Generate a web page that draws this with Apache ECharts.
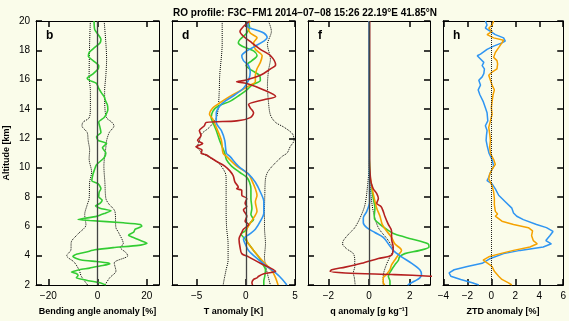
<!DOCTYPE html>
<html>
<head>
<meta charset="utf-8">
<script src="https://cdn.jsdelivr.net/npm/echarts@6/dist/echarts.min.js"></script>
<style>
  html, body { margin: 0; padding: 0; background: #fafcea; }
  #chart { width: 569px; height: 321px; }
</style>
</head>
<body>
<div id="chart"></div>
<script>
// values are [anomaly, altitude km]

// panel b: bending angle anomaly [%]
const bendGreen = [[-1.4,20],[-1.1,19.4],[1.4,18.75],[1.0,18.5],[-1.1,18.2],[-3.4,17.85],[-3.7,17.6],[-1.8,17.3],[0.5,16.95],[0.3,16.75],[-1.8,16.4],[-4.2,16.1],[-3.2,15.95],[-0.4,15.75],[0.5,15.4],[1.6,15.1],[2.7,14.85],[3.4,14.5],[4.0,14.3],[4.2,13.95],[3.4,13.6],[2.6,13.4],[0.5,13.1],[1.0,12.75],[1.4,12.4],[-0.4,12.1],[0.3,11.85],[3.7,11.65],[2.0,11.35],[3.4,11.0],[2.6,10.66],[-0.4,10.2],[-1.4,9.78],[-2.0,9.45],[-2.3,9.1],[0.3,8.9],[1.4,8.56],[0.7,8.34],[0.5,8.0],[1.9,7.8],[1.0,7.57],[-0.8,7.4],[1.0,7.24],[5.5,7.06],[3.2,6.9],[-0.4,6.68],[-7.9,6.46],[-3.2,6.4],[10.5,6.24],[17.4,6.13],[18.0,6.0],[15.3,5.8],[14.7,5.6],[12.6,5.4],[13.6,5.3],[18.0,5.0],[20.1,4.85],[16.7,4.7],[6.4,4.55],[-1.1,4.4],[-4.5,4.25],[-8.6,4.1],[-10.0,3.95],[-6.6,3.7],[-0.4,3.6],[4.5,3.5],[5.0,3.44],[1.0,3.3],[-3.2,3.15],[-7.3,3.04],[-10.6,2.88],[-8.6,2.78],[-7.9,2.64],[-8.6,2.5],[-4.5,2.33],[1.0,2.15],[3.4,2.0]]
const bendLow = [[-2.9,20],[-3.2,18.5],[-3.4,16.3],[-2.9,15.2],[-2.9,14.1],[-3.4,13.4],[-5.9,13.1],[-6.3,12.85],[-4.2,12.4],[-3.8,11.85],[-3.2,11.2],[-3.4,10.6],[-2.4,9.7],[-3.2,9.0],[-3.4,7.9],[-4.2,7.46],[-5.2,6.8],[-4.7,6.1],[-8.0,5.47],[-10.7,4.9],[-10.8,4.4],[-12.5,4.0],[-9.5,3.56],[-7.4,3.0],[-6.6,2.6],[-4.0,2.0]]
const bendHigh = [[2.7,20],[3.4,18.5],[3.7,17.4],[3.4,16.3],[2.9,15.2],[3.0,14.1],[3.7,13.4],[5.8,13.1],[6.7,12.85],[4.8,12.4],[3.7,11.85],[3.4,11.4],[2.6,10.1],[3.0,9.0],[3.4,7.9],[4.4,7.57],[7.1,7.0],[7.5,5.9],[8.5,5.6],[10.5,4.8],[9.2,4.58],[11.6,4.2],[12.3,4.0],[6.8,3.5],[7.5,2.95],[5.0,2.5],[3.0,2.0]]

// panel d: temperature anomaly [K]
const tGreen = [[0.17,20],[0.38,19.62],[0.1,19.18],[-0.59,18.74],[-0.76,18.51],[-0.41,18.29],[0.79,17.96],[1.14,17.63],[0.62,17.3],[0.03,16.96],[0.62,16.63],[1.38,16.3],[1.48,15.96],[0.62,15.63],[0.1,15.3],[-0.59,14.97],[-1.62,14.52],[-2.83,14.19],[-3.34,13.86],[-3.52,13.41],[-3.34,13.08],[-3.0,12.53],[-2.66,11.86],[-2.14,10.98],[-1.97,10.55],[-1.45,10.11],[-0.59,9.67],[0.1,9.34],[0.38,9.01],[0.52,8.56],[0.52,7.9],[0.62,7.24],[0.52,6.8],[0.79,6.46],[0.45,6.24],[-0.07,5.69],[-0.48,5.47],[-0.07,5.14],[0.28,4.81],[0.79,4.36],[1.31,3.92],[1.66,3.48],[2.0,3.04],[1.93,2.6],[1.83,2.27],[1.83,2.0]]
const tOrange = [[0.45,20],[0.21,19.62],[0.45,19.18],[1.14,18.85],[0.79,18.51],[0.97,18.07],[1.66,17.63],[1.48,17.18],[1.14,16.74],[0.97,16.3],[0.97,15.85],[0.45,15.63],[-0.41,15.3],[-1.62,14.86],[-2.66,14.41],[-3.34,14.08],[-3.69,13.64],[-3.34,13.3],[-3.0,12.75],[-2.48,11.86],[-2.31,10.98],[-1.97,10.77],[-0.93,10.11],[0.28,9.56],[0.62,9.12],[0.97,8.56],[1.14,8.12],[0.97,7.68],[1.14,7.02],[0.79,6.57],[0.38,6.13],[0.1,5.8],[0.03,5.36],[0.17,4.92],[0.79,4.36],[1.48,3.81],[2.1,3.37],[2.69,2.93],[3.03,2.49],[3.28,2.0]]
const tBlue = [[0.28,20],[0.21,19.62],[0.97,19.4],[1.83,19.18],[2.17,18.85],[1.83,18.63],[0.97,18.29],[0.1,17.96],[-0.41,17.63],[-0.24,17.3],[0.28,16.96],[0.45,16.52],[0.28,15.96],[-0.24,15.41],[-1.1,14.97],[-2.14,14.52],[-2.66,14.19],[-3.0,13.75],[-3.0,13.08],[-2.48,12.53],[-2.14,11.86],[-1.97,10.98],[-1.62,10.77],[-0.76,10.11],[0.28,9.56],[0.97,9.01],[1.48,8.34],[1.83,7.68],[1.83,6.91],[1.48,6.35],[0.97,5.8],[0.38,5.47],[-0.24,5.14],[-0.07,4.81],[0.28,4.36],[1.14,3.81],[2.17,3.26],[3.03,2.82],[3.72,2.38],[4.17,2.0]]
const tRed = [[0.38,20],[-0.24,19.62],[-0.59,19.29],[-0.24,18.96],[0.62,18.51],[1.48,18.07],[2.52,17.63],[3.03,17.0],[2.52,16.74],[1.48,16.3],[-0.07,15.96],[-0.93,15.85],[0.1,15.74],[1.83,15.3],[3.03,14.86],[1.83,14.63],[0.28,14.3],[0.45,14.08],[0.79,13.75],[0.45,13.41],[-0.93,13.19],[-4.03,13.08],[-4.21,12.86],[-4.72,12.53],[-4.55,12.2],[-4.9,11.86],[-4.38,11.64],[-5.07,11.42],[-4.45,11.2],[-4.55,10.98],[-4.03,10.88],[-3.52,10.66],[-3.0,10.44],[-2.14,10.11],[-1.62,9.78],[-1.28,9.45],[-1.1,9.01],[-0.76,8.67],[-0.93,8.56],[-0.41,8.45],[-0.41,8.12],[0.1,7.9],[-0.07,7.57],[0.1,7.35],[-0.24,7.13],[0.1,6.69],[-0.07,6.35],[0.28,6.13],[-0.24,5.8],[-0.41,5.58],[-0.69,5.14],[-0.59,4.59],[-0.41,4.14],[0.28,3.92],[1.48,3.48],[2.52,3.15],[3.03,2.93],[1.83,2.77],[1.31,2.6],[1.14,2.49],[0.79,2.38],[0.62,2.15],[0.69,2.0]]
const tLow = [[-2.4,20],[-2.4,18.5],[-2.65,16.3],[-2.7,15.2],[-2.8,14.1],[-3.0,13.4],[-3.7,12.75],[-4.5,12.3],[-4.7,11.86],[-4.9,11.44],[-4.4,10.99],[-2.8,10.33],[-2.1,9.67],[-2.0,9.23],[-2.0,8.1],[-2.0,7.0],[-1.95,5.9],[-1.8,4.8],[-1.8,3.7],[-2.0,3.04],[-2.2,2.38],[-2.3,2.0]]
const tHigh = [[2.3,20],[2.6,19.3],[2.2,18.4],[2.5,17.4],[2.3,16.6],[2.2,15.6],[2.3,14.5],[2.5,13.6],[3.0,13.1],[3.9,12.75],[4.75,12.3],[4.9,11.86],[4.5,11.42],[4.2,11.0],[3.7,10.77],[2.7,10.11],[2.2,9.67],[2.0,9.23],[1.93,8.12],[1.9,7.02],[1.9,5.91],[2.0,4.81],[1.9,3.92],[2.1,3.04],[2.5,2.0]]

// panel f: specific humidity anomaly [g/kg]
const qGreen = [[0,20],[0,11],[0.03,10.11],[0.05,9.23],[0.13,8.78],[0.16,8.34],[0.21,7.9],[0.29,7.24],[0.26,6.69],[0.29,6.46],[0.54,6.13],[0.86,5.8],[1.27,5.47],[2.1,5.14],[2.9,4.81],[2.95,4.59],[2.5,4.36],[1.76,4.14],[1.5,3.92],[1.45,3.7],[1.27,3.37],[1.11,3.04],[0.95,2.6],[1.03,2.27],[1.03,2.0]]
const qOrange = [[0,20],[0,11],[0.02,10.11],[0.07,9.23],[0.16,8.56],[0.26,7.9],[0.38,7.24],[0.54,6.69],[0.65,6.13],[0.86,5.69],[1.11,5.25],[1.27,4.81],[1.6,4.36],[1.43,4.03],[1.27,3.7],[1.11,3.37],[1.03,3.04],[0.86,2.71],[0.7,2.49],[0.7,2.15],[0.78,2.0]]
const qBlue = [[0,20],[0,11],[0.03,9.0],[0.03,7.68],[-0.11,7.02],[-0.28,6.57],[-0.28,6.24],[-0.11,5.91],[0.29,5.58],[0.7,5.25],[0.95,4.81],[1.19,4.36],[1.6,3.92],[2.1,3.48],[2.5,3.04],[2.58,2.71],[2.5,2.49],[2.25,2.27],[1.9,2.0]]
const qRed = [[0.03,20],[0.03,12],[0.03,10.11],[0.05,9.67],[0.1,9.01],[0.21,8.56],[0.38,8.23],[0.46,7.9],[0.38,7.57],[0.59,7.35],[0.7,7.02],[0.78,6.69],[0.95,6.13],[1.11,5.69],[1.11,5.14],[1.19,4.59],[1.11,4.03],[0.46,3.81],[-0.36,3.48],[-1.17,3.22],[-1.83,3.04],[-1.91,2.93],[-1.17,2.82],[1.27,2.71],[3.0,2.6],[4.0,2.5]]
const qLow = [[0,20],[0,10.11],[-0.07,8.78],[-0.2,7.46],[-0.44,6.57],[-0.7,5.91],[-1.0,5.47],[-1.26,5.03],[-1.3,4.81],[-1.1,4.47],[-0.77,4.14],[-0.7,3.7],[-0.7,3.26],[-0.77,2.82],[-0.72,2.49],[-0.68,2.0]]
const qHigh = [[0,20],[0,10.11],[0.1,8.12],[0.21,7.02],[0.46,5.91],[0.95,5.03],[1.19,4.36],[1.03,3.92],[0.82,3.26],[0.7,2.6],[0.7,2.0]]

// panel h: ZTD anomaly [%]
const ztdOrange = [[0.19,20],[0.06,19.73],[-0.22,19.51],[0.06,19.29],[-0.36,19.07],[0.19,18.85],[1.02,18.69],[0.88,18.51],[0.61,18.18],[0.33,17.85],[0.19,17.52],[0.47,17.3],[0.52,17.07],[0.47,16.74],[0.06,16.52],[-0.22,16.3],[-0.08,15.96],[0.06,15.63],[0.25,15.3],[0.14,14.97],[0.06,14.52],[0,14.08],[0.06,13.64],[-0.08,13.19],[-0.22,12.75],[-0.14,12.31],[-0.08,11.86],[-0.14,11.42],[-0.08,10.98],[0.19,10.55],[0.33,10.22],[0.06,9.89],[-0.14,9.56],[-0.22,9.23],[0.06,8.78],[0.19,8.34],[0.25,7.9],[0.25,7.46],[0.33,7.02],[0.52,6.84],[0.33,6.69],[0.88,6.35],[1.85,6.13],[3.09,5.91],[3.44,5.69],[3.36,5.36],[3.5,5.03],[3.83,4.81],[3.22,4.59],[1.85,4.36],[0.74,4.14],[-0.22,3.92],[-0.69,3.7],[-0.3,3.48],[0.06,3.26],[0.25,2.93],[0.61,2.6],[0.88,2.38],[1.43,2.15],[1.71,2.0]]
const ztdBlue = [[-0.5,20],[-0.36,19.73],[-0.5,19.51],[-0.08,19.29],[0.33,19.07],[1.02,18.85],[1.16,18.63],[0.88,18.51],[0.19,18.29],[-0.36,18.07],[-0.91,17.74],[-1.18,17.63],[-0.91,17.41],[-0.63,17.18],[-0.77,16.96],[-0.58,16.74],[-0.63,16.41],[-0.77,16.19],[-1.05,15.96],[-0.91,15.63],[-1.1,15.3],[-0.96,14.97],[-0.69,14.52],[-0.5,14.08],[-0.36,13.75],[-0.3,13.19],[-0.5,12.86],[-0.36,12.53],[-0.41,12.2],[-0.44,11.86],[-0.36,11.53],[-0.2,10.99],[0.06,10.55],[0.19,10.11],[-0.08,9.67],[-0.22,9.34],[-0.36,9.12],[0.06,8.9],[0.33,8.56],[0.61,8.12],[1.16,7.68],[1.71,7.24],[1.85,6.91],[2.12,6.69],[2.67,6.46],[3.77,6.13],[4.6,5.91],[5.15,5.65],[4.88,5.36],[4.55,5.03],[5.01,4.81],[4.33,4.59],[2.4,4.36],[1.02,4.14],[-0.08,3.81],[-0.77,3.48],[-2.01,3.26],[-3.11,3.04],[-3.53,2.82],[-3.39,2.6],[-2.56,2.38],[-1.6,2.15],[-1.05,2.0]]

const GREEN = '#33cc33'
const ORANGE = '#f5a200'
const BLUE = '#2f95f2'
const RED = '#b52020'
const FONT = 'Liberation Sans'

const panels = [
  { left: 36, width: 123, min: -25, max: 25, ticks: [-20, 0, 20], name: 'Bending angle anomaly [%]', letter: 'b' },
  { left: 172, width: 123, min: -7.5, max: 5, ticks: [-5, 0, 5], name: 'T anomaly [K]', letter: 'd' },
  { left: 308, width: 122, min: -3, max: 3, ticks: [-2, 0, 2], name: 'q anomaly [g kg⁻¹]', letter: 'f' },
  { left: 443, width: 121, min: -4.04, max: 6, ticks: [-4, -2, 0, 2, 4, 6], name: 'ZTD anomaly [%]', letter: 'h' },
]

const fmt = v => String(v).replace('-', '−')
function mkTick(values) {
  const t = { show: true, inside: true, length: 6, lineStyle: { color: '#000', width: 1.5 } }
  if (values) t.customValues = values
  return t
}
const mkFrame = () => ({ show: true, onZero: false, lineStyle: { color: '#000', width: 1 } })

const grid = []
const xAxis = []
const yAxis = []
panels.forEach((p, i) => {
  grid.push({ left: p.left, width: p.width, top: 21, height: 271 })
  xAxis.push({
    type: 'value', gridIndex: i, position: 'bottom', min: p.min, max: p.max,
    axisLine: mkFrame(), splitLine: { show: false },
    axisTick: mkTick(p.ticks),
    axisLabel: { customValues: p.ticks, formatter: fmt, color: '#000', fontSize: 10, fontFamily: FONT, margin: 6, hideOverlap: false },
    name: p.name, nameLocation: 'middle', nameGap: 22,
    nameTextStyle: { color: '#000', fontSize: 9, fontWeight: 'bold', fontFamily: FONT },
  })
  xAxis.push({
    type: 'value', gridIndex: i, position: 'top', min: p.min, max: p.max,
    axisLine: mkFrame(), splitLine: { show: false },
    axisTick: mkTick(p.ticks),
    axisLabel: { show: false },
  })
  yAxis.push({
    type: 'value', gridIndex: i, position: 'left', min: 2, max: 20, interval: 2,
    axisLine: mkFrame(), splitLine: { show: false },
    axisTick: mkTick(),
    axisLabel: { show: i === 0, color: '#000', fontSize: 10, fontFamily: FONT, margin: 6 },
    name: i === 0 ? 'Altitude [km]' : '', nameLocation: 'middle', nameGap: 25,
    nameTextStyle: { color: '#000', fontSize: 9, fontWeight: 'bold', fontFamily: FONT },
  })
  yAxis.push({
    type: 'value', gridIndex: i, position: 'right', min: 2, max: 20, interval: 2,
    axisLine: mkFrame(), splitLine: { show: false },
    axisTick: mkTick(), axisLabel: { show: false },
  })
})

function line(i, data, color, opts = {}) {
  return {
    type: 'line', xAxisIndex: 2 * i, yAxisIndex: 2 * i, data,
    symbol: 'none', silent: true, smooth: opts.smooth ?? 0.3,
    lineStyle: { color, width: opts.width ?? 1.6, type: opts.type ?? 'solid' },
    z: opts.z ?? 3,
    markLine: opts.zero ? {
      silent: true, symbol: 'none', label: { show: false },
      lineStyle: { color: opts.zeroColor ?? '#444', width: opts.zeroWidth ?? 1.3, type: opts.zeroType ?? 'solid' },
      data: [{ xAxis: 0 }],
    } : undefined,
  }
}

const dotted = { type: 'dotted', width: 1, smooth: 0.3, z: 2 }

const series = [
  line(0, bendLow, '#000', { ...dotted, zero: true }),
  line(0, bendHigh, '#000', dotted),
  line(0, bendGreen, GREEN, { smooth: 0.2 }),

  line(1, tLow, '#000', { ...dotted, zero: true }),
  line(1, tHigh, '#000', dotted),
  line(1, tGreen, GREEN),
  line(1, tOrange, ORANGE),
  line(1, tBlue, BLUE),
  line(1, tRed, RED),

  line(2, qLow, '#000', { ...dotted, zero: true }),
  line(2, qHigh, '#000', dotted),
  line(2, qGreen, GREEN),
  line(2, qOrange, ORANGE),
  line(2, qBlue, BLUE),
  line(2, qRed, RED),

  line(3, ztdBlue, BLUE, { smooth: false, width: 1.5, zero: true, zeroColor: '#222', zeroWidth: 1, zeroType: 'dotted' }),
  line(3, ztdOrange, ORANGE, { smooth: false, width: 1.5 }),
]

const letters = [
  { x: 46, label: 'b' }, { x: 182, label: 'd' }, { x: 318, label: 'f' }, { x: 453, label: 'h' },
]

const chart = echarts.init(document.getElementById('chart'))
chart.setOption({
  backgroundColor: '#fafcea',
  animation: false,
  title: {
    text: 'RO profile: F3C−FM1 2014−07−08 15:26 22.19°E 41.85°N',
    left: 300, top: 3, textAlign: 'center',
    textStyle: { color: '#000', fontSize: 10, fontWeight: 'bold', fontFamily: FONT },
  },
  grid, xAxis, yAxis, series,
  graphic: letters.map(l => ({
    type: 'text', left: l.x, top: 30,
    style: { text: l.label, fill: '#000', font: 'bold 12px "Liberation Sans"' },
  })),
})
</script>
</body>
</html>
